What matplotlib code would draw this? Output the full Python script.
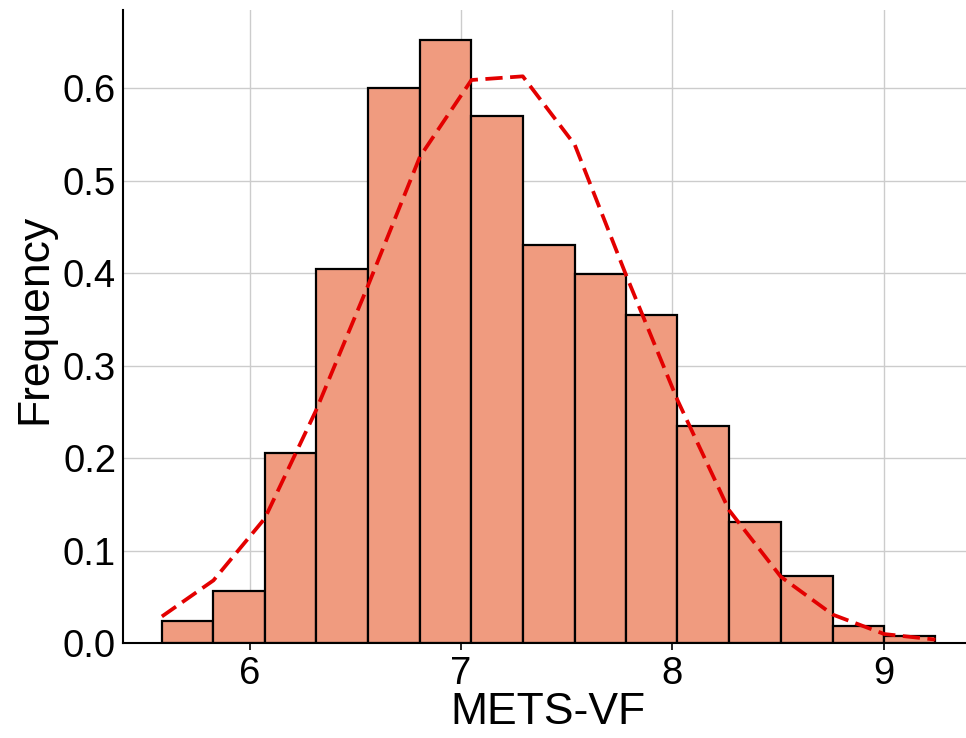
import numpy as np
import matplotlib
matplotlib.use("Agg")
import matplotlib.pyplot as plt

plt.rcParams['font.family'] = ['Liberation Sans', 'DejaVu Sans']

# histogram bins (METS-VF) and bar heights (density)
bin_edges = [5.584, 5.828, 6.071, 6.314, 6.560, 6.805, 7.049, 7.292,
             7.538, 7.781, 8.024, 8.268, 8.513, 8.759, 9.003, 9.245]
freq = [0.024, 0.057, 0.206, 0.405, 0.600, 0.652, 0.570, 0.431,
        0.399, 0.355, 0.235, 0.131, 0.073, 0.019, 0.008]

# density curve sampled at the bin edges
curve_y = [0.029, 0.068, 0.135, 0.252, 0.387, 0.526, 0.609, 0.613,
           0.539, 0.398, 0.263, 0.144, 0.072, 0.031, 0.010, 0.004]

W, H = 966, 738
fig = plt.figure(figsize=(W / 100, H / 100), dpi=100)
fig.patch.set_facecolor('white')

# axes box in pixels: left 123, right ~974 (runs past the edge), top 10, bottom 643
left, right, top, bottom = 123, 973.7, 10, 643.3
ax = fig.add_axes([left / W, (H - bottom) / H, (right - left) / W, (bottom - top) / H])

edges = np.array(bin_edges)
ax.bar(edges[:-1], freq, width=np.diff(edges), align='edge',
       color='#F09B7F', edgecolor='black', linewidth=1.6, zorder=2)
ax.plot(bin_edges, curve_y, color='#E30000', linestyle='--', linewidth=2.7,
        dashes=(4.6, 2.0), zorder=3)

ax.set_xlim(5.400, 9.426)
ax.set_ylim(0, 0.6847)
ax.set_xticks([6, 7, 8, 9])
ax.set_yticks([0.0, 0.1, 0.2, 0.3, 0.4, 0.5, 0.6])
ax.set_yticklabels(['0.0', '0.1', '0.2', '0.3', '0.4', '0.5', '0.6'])

ax.grid(True, color='#cccccc', linewidth=1.0, zorder=0)
ax.set_axisbelow(True)

for s in ['top', 'right']:
    ax.spines[s].set_visible(False)
for s in ['left', 'bottom']:
    ax.spines[s].set_color('black')
    ax.spines[s].set_linewidth(1.5)

ax.tick_params(axis='x', length=5, width=1.2, color='black', labelsize=27.5, pad=4)
ax.tick_params(axis='y', length=0, labelsize=27.5, pad=5)

ax.set_xlabel('METS-VF', fontsize=32, labelpad=0)
ax.set_ylabel('Frequency', fontsize=32)
ax.yaxis.set_label_coords(-0.080, 0.512)

fig.savefig('out.png', dpi=100)
